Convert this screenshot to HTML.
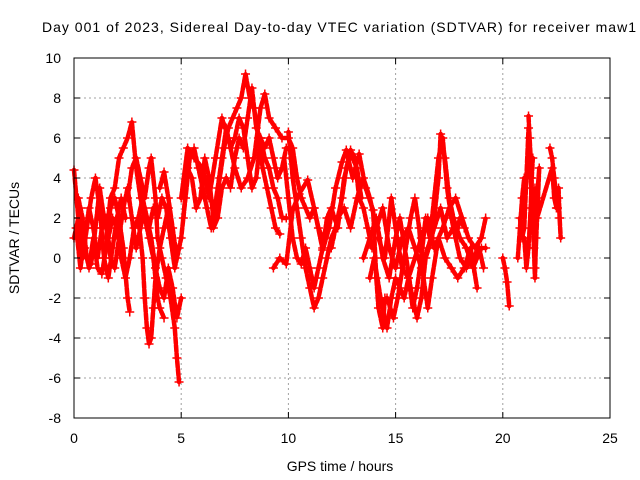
<!DOCTYPE html>
<html><head><meta charset="utf-8"><style>
html,body{margin:0;padding:0;background:#fff}
svg{display:block;font-family:"Liberation Sans",sans-serif}
</style></head><body>
<svg id="chart" width="640" height="480" viewBox="0 0 640 480">
<rect width="640" height="480" fill="#fff"/>
<text x="339" y="32" text-anchor="middle" font-size="14" textLength="594">Day 001 of 2023, Sidereal Day-to-day VTEC variation (SDTVAR) for receiver maw1</text>
<g id="grid"></g><g id="series"></g><g id="axes"></g>
<text x="340" y="471" text-anchor="middle" font-size="14">GPS time / hours</text>
<text transform="translate(19,238) rotate(-90)" text-anchor="middle" font-size="14">SDTVAR / TECUs</text>
</svg>
<script>
const xTicks=[0,5,10,15,20,25];
const yTicks=[-8,-6,-4,-2,0,2,4,6,8,10];
const track1=[[0,4.4],[0.2,2],[0.4,0],[0.6,1.5],[0.8,3],[1.0,4],[1.2,2.5],[1.4,0],[1.6,-1],[1.8,0.5],[2.0,2],[2.2,3],[2.4,2]];
const track2=[[0,1],[0.3,2.5],[0.5,0.5],[0.7,-0.5],[0.9,1],[1.1,-0.5],[1.3,-0.8],[1.5,0.5],[1.7,2.5],[1.9,3],[2.1,2],[2.3,0.5],[2.5,-2],[2.6,-2.7]];
const track3=[[1.5,1],[1.7,3],[1.9,3.5],[2.1,5],[2.3,5.5],[2.5,6],[2.7,6.8],[2.9,4.5],[3.1,3],[3.3,2],[3.5,1],[3.7,0],[3.9,-2],[4.0,-2.5],[4.2,-3]];
const track4=[[2.5,3],[2.7,4.5],[2.9,5],[3.1,4],[3.3,3],[3.5,4.5],[3.6,5],[3.8,3],[3.9,1],[4.1,0],[4.3,-1],[4.5,-2],[4.7,-3.5],[4.8,-5],[4.9,-6.2]];
const track5=[[3.0,2],[3.2,0],[3.3,-2],[3.4,-3.5],[3.5,-4.3],[3.6,-4],[3.7,-2.5],[3.8,-1],[4.0,0.5],[4.2,1.5],[4.4,2.5]];
const track6=[[4.0,3.5],[4.2,4.3],[4.4,3],[4.6,1.5],[4.8,0],[5.0,1],[5.2,3],[5.4,5],[5.6,5.5],[5.8,4.5],[6.0,3.5],[6.2,2.5],[6.4,1.5],[6.6,2.5],[6.8,4],[7.0,5.5],[7.2,6.5],[7.4,7],[7.6,7.5],[7.8,8],[8.0,9.2],[8.2,8],[8.4,7.5],[8.6,6],[8.8,4.5],[9.0,3.5],[9.2,2.5],[9.4,1.5],[9.6,1.2]];
const track7=[[5.0,3],[5.3,5.5],[5.6,5],[6.0,4.5],[6.3,3],[6.6,5],[6.9,7],[7.2,6],[7.5,4.5],[7.8,3.5],[8.1,4],[8.4,5],[8.7,7.5],[8.9,8.2],[9.1,7],[9.4,6.5],[9.7,6],[10,6],[10.2,5.5],[10.4,4],[10.6,3],[10.8,2.5],[11.0,2],[11.2,2.5],[11.4,1.5],[11.6,1]];
const track8=[[10,6.3],[10.2,4],[10.4,2.5],[10.6,1],[10.8,-0.5],[11.0,-1.5],[11.2,-2.5],[11.4,-2],[11.6,-1],[11.8,0],[12.0,1],[12.2,1.5],[12.5,3],[12.7,4.5],[12.9,5.4],[13.1,5],[13.3,3],[13.5,2.5],[13.7,1.5],[13.9,0.5]];
const track9=[[9.3,-0.5],[9.6,0],[9.9,-0.3],[10.2,2.4],[10.5,3.2],[10.9,3.9],[11.2,2.5],[11.6,0.4],[11.9,1.5],[12.2,3.5],[12.5,4.8],[12.7,5.4],[13.0,4],[13.3,5.2],[13.6,3.5],[13.95,2.4],[14.1,-1],[14.2,-2.5],[14.4,-3.5],[14.5,-2]];
const track10=[[13.5,0],[13.8,1],[14.1,2],[14.4,0],[14.7,-1],[15.0,1],[15.2,2],[15.5,0],[15.7,-1.5],[16.0,-3],[16.2,-2],[16.4,0],[16.7,1],[17.0,4],[17.1,6.2],[17.3,5],[17.5,3],[17.7,2],[18.0,1],[18.3,0.5],[18.6,-0.5],[18.8,0],[19.0,0.5],[19.2,0.5]];
const track11=[[14.2,1],[14.5,0],[14.8,3],[15.0,1.5],[15.3,-0.5],[15.6,-1],[15.9,0],[16.2,1],[16.5,2],[16.8,0.5],[17.2,1.5],[17.5,2.5],[17.8,3],[18.1,2],[18.4,1],[18.7,0.5],[19.0,1],[19.2,2]];
const track12=[[14.6,-2],[14.9,-3],[15.1,-2],[15.4,0],[15.7,2],[15.9,3],[16.1,1.5],[16.3,-1],[16.5,-2.5],[16.7,-1],[17.0,1],[17.3,0],[17.6,-0.5],[17.9,-1],[18.2,-0.5],[18.5,0.5],[18.8,-1.5]];
const track13=[[20.0,0],[20.1,-0.5],[20.2,-1.2],[20.3,-2.4]];
const track14=[[20.7,0],[20.8,1.5],[20.9,3],[21.0,4]];
const track15=[[21.2,7.1],[21.25,6],[21.3,5],[21.35,3.5],[21.4,2],[21.45,0.5],[21.5,-1],[21.55,1],[21.6,3],[21.7,4.5],[21.5,-0.5]];
const track16=[[21.0,1],[21.1,-0.5],[21.2,0.5],[21.3,2.5],[21.35,4],[21.4,5]];
const track17=[[22.2,5.5],[22.3,5],[22.4,4],[22.5,3],[22.55,2.5],[22.6,3.5],[22.65,2],[22.7,1]];
const track18=[[0.1,1.5],[0.3,-0.5],[0.5,1],[0.7,2.5],[0.9,1.5],[1.1,0],[1.3,1.5],[1.5,2],[1.7,0],[1.9,-0.5],[2.1,1],[2.3,2.5],[2.5,3.5],[2.7,2],[2.9,0.5],[3.1,1.5],[3.3,2.5],[3.5,1.5],[3.7,2.5],[3.9,2],[4.1,3],[4.3,2.5],[4.5,1],[4.7,-0.5],[4.9,0.5]];
const track19=[[0.2,3],[0.4,2],[0.6,0],[0.8,-0.3],[1.0,1.5],[1.2,3.5],[1.4,2],[1.6,1],[1.8,2],[2.0,1.5],[2.2,0],[2.4,-1],[2.6,0],[2.8,1.5],[3.0,2],[3.2,3],[3.4,2],[3.6,1],[3.8,-0.5],[4.0,-1.5],[4.2,-2],[4.4,-0.5],[4.6,-1.5],[4.8,-3],[5.0,-2]];
const track20=[[5.1,2],[5.3,4.5],[5.5,4],[5.7,2.5],[5.9,3],[6.1,5],[6.3,4],[6.5,2],[6.7,3.5],[6.9,5],[7.1,6.5],[7.3,5.5],[7.5,6],[7.7,7],[7.9,6.5],[8.1,5],[8.3,3.5],[8.5,4],[8.7,6],[8.9,5.5],[9.1,6],[9.3,5],[9.5,4],[9.7,4.5],[9.9,5.5]];
const track21=[[6.5,1.5],[6.7,2],[6.9,3.5],[7.1,4],[7.3,3.5],[7.5,5],[7.7,6],[7.9,5.5],[8.1,7],[8.3,8.5],[8.5,6.5],[8.7,6],[8.9,5],[9.1,4.5],[9.3,3.5],[9.5,3],[9.7,2],[9.9,2]];
const track22=[[12.0,0.5],[12.3,2],[12.6,2.5],[12.9,1.5],[13.2,3],[13.5,4],[13.8,3],[14.1,1.5],[14.4,2.5],[14.7,0.5],[15.0,-0.5],[15.3,1],[15.6,1.5],[15.9,0.5],[16.2,-0.5],[16.5,0.5],[16.8,1.5],[17.1,2.5],[17.4,1],[17.7,1.5],[18.0,0],[18.3,-0.5],[18.6,0],[18.9,0.5],[19.1,-0.5]];
const track23=[[13.8,-1],[14.0,0],[14.3,-2],[14.6,-3.5],[14.8,-2],[15.0,-1],[15.2,-1.5],[15.4,-2],[15.6,-1],[15.8,-2.5],[16.0,-1.5],[16.2,0],[16.4,2],[16.6,1],[16.8,3],[17.0,5],[17.2,6],[17.4,3.5],[17.6,2],[17.8,1],[18.0,2],[18.2,1.5]];
const track24=[[9.8,5],[10.0,3],[10.2,1],[10.4,0],[10.6,-0.3],[10.8,0.5],[11.0,-0.5],[11.2,-1.5],[11.4,-0.5],[11.6,0.5],[11.8,2],[12.0,2.5],[12.3,1.5],[12.6,4],[12.9,5.2],[13.2,4.5],[13.4,3]];
const track25=[[20.8,2],[20.9,1],[21.0,1.5],[21.2,6.5],[21.3,4],[21.4,2.5],[21.5,3.5],[21.6,2],[22.3,4.5],[22.4,3],[22.5,2.5],[22.6,3]];
const tracks=[track1,track2,track3,track4,track5,track6,track7,track8,track9,track10,track11,track12,track13,track14,track15,track16,track17,track18,track19,track20,track21,track22,track23,track24,track25];

const X0=74,X1=610,Y0=418,Y1=58;
const xs=v=>X0+(v-0)/(25-0)*(X1-X0);
const ys=v=>Y0-(v-(-8))/(10-(-8))*(Y0-Y1);
const NS="http://www.w3.org/2000/svg";
function mk(tag,attrs,parent){const e=document.createElementNS(NS,tag);for(const k in attrs)e.setAttribute(k,attrs[k]);parent.appendChild(e);return e;}
const grid=document.getElementById('grid'),axes=document.getElementById('axes'),series=document.getElementById('series');
xTicks.forEach(t=>{
  const x=xs(t);
  if(t>0&&t<25){const g=mk('line',{x1:x,x2:x,y1:Y1,y2:Y0,stroke:'#a0a0a0','stroke-dasharray':'2,3'},grid);
  
  }
  mk('line',{x1:x,x2:x,y1:Y0,y2:Y0-6,stroke:'#000'},axes);
  mk('line',{x1:x,x2:x,y1:Y1,y2:Y1+6,stroke:'#000'},axes);
  const l=mk('text',{x:x,y:443,'text-anchor':'middle','font-size':14},axes);l.textContent=t;
  
  
});
yTicks.forEach(t=>{
  const y=ys(t);
  if(t>-8&&t<10){const g=mk('line',{x1:X0,x2:X1,y1:y,y2:y,stroke:'#a0a0a0','stroke-dasharray':'2,3'},grid);
  
  }
  mk('line',{x1:X0,x2:X0+6,y1:y,y2:y,stroke:'#000'},axes);
  mk('line',{x1:X1,x2:X1-6,y1:y,y2:y,stroke:'#000'},axes);
  const l=mk('text',{x:61,y:y+5,'text-anchor':'end','font-size':14},axes);l.textContent=t;
  
  
});
const frame=mk('rect',{x:X0,y:Y1,width:X1-X0,height:Y0-Y1,fill:'none',stroke:'#000'},axes);


tracks.forEach((tr,i)=>{
  const g=mk('g',{},series);
  
  
  const pts=tr.map(p=>xs(p[0])+','+ys(p[1])).join(' ');
  mk('polyline',{points:pts,fill:'none',stroke:'#f00','stroke-width':4.5,'stroke-linejoin':'round','stroke-linecap':'round','stroke-dasharray':'6,2'},g);
  tr.forEach(p=>{
    const x=xs(p[0]),y=ys(p[1]);
    const m=mk('path',{d:`M${x-4.5},${y}h9M${x},${y-4.5}v9`,stroke:'#f00','stroke-width':1.5},g);
    
    
  });
});
</script>
</body></html>
